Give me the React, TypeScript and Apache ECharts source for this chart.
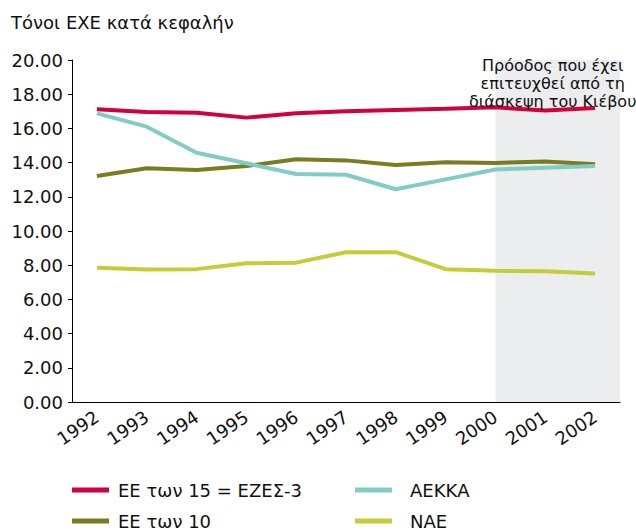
import React, { useEffect, useRef } from "react";
import * as echarts from "echarts";

const years = ["1992", "1993", "1994", "1995", "1996", "1997", "1998", "1999", "2000", "2001", "2002"];
const eu15 = [17.12, 16.96, 16.92, 16.63, 16.88, 17.0, 17.08, 17.15, 17.23, 17.05, 17.19];
const eu10 = [13.22, 13.67, 13.57, 13.8, 14.19, 14.13, 13.86, 14.02, 13.98, 14.06, 13.9];
const aekka = [16.88, 16.1, 14.58, 13.96, 13.33, 13.29, 12.44, 13.02, 13.6, 13.7, 13.8];
const nae = [7.85, 7.75, 7.77, 8.11, 8.15, 8.76, 8.76, 7.77, 7.67, 7.65, 7.51];
const seriesNames = ["ΕΕ των 15 = ΕΖΕΣ-3", "ΕΕ των 10", "ΑΕΚΚΑ", "ΝΑΕ"];
const colors = ["#d2003c", "#7b7b1f", "#82ccc6", "#c4cd38"];
const titleText = "Τόνοι ΕΧΕ κατά κεφαλήν";
const noteText = "Πρόοδος που έχει\nεπιτευχθεί από τη\nδιάσκεψη του Κιέβου";
const shadeFrom = "2000";

const FONT = "'DejaVu Sans', Verdana, sans-serif";

export default function App() {
  const ref = useRef<HTMLDivElement>(null);
  useEffect(() => {
    if (!ref.current) return;
    const chart = echarts.init(ref.current, null, { renderer: "svg" });
    const dataArr = [eu15, eu10, aekka, nae];
    const legendPos = [
      { left: 72, top: 480, pad: 4 },
      { left: 72, top: 511, pad: 4 },
      { left: 355, top: 480, pad: 13 },
      { left: 355, top: 511, pad: 13 },
    ];
    chart.setOption({
      animation: false,
      textStyle: { fontFamily: FONT },
      title: {
        text: titleText,
        left: 6,
        top: 8,
        textStyle: { fontFamily: FONT, fontSize: 18, fontWeight: "normal", color: "#111" },
      },
      grid: { left: 72, right: 16, top: 60, bottom: 129, containLabel: false },
      legend: seriesNames.map((n, i) => ({
        left: legendPos[i].left,
        top: legendPos[i].top,
        itemWidth: 37,
        itemHeight: 5,
        icon: "rect",
        padding: 0,
        data: [n],
        textStyle: {
          fontFamily: FONT,
          fontSize: 18,
          color: "#111",
          lineHeight: 20,
          padding: [0, 0, 0, legendPos[i].pad],
        },
      })),
      xAxis: {
        type: "category",
        data: years,
        boundaryGap: true,
        axisLine: { lineStyle: { color: "#000", width: 1 } },
        axisTick: { alignWithLabel: true, length: 5, lineStyle: { color: "#000" } },
        axisLabel: { rotate: 34, fontSize: 18, color: "#111", fontFamily: FONT, margin: 13 },
      },
      yAxis: {
        type: "value",
        min: 0,
        max: 20,
        interval: 2,
        splitLine: { show: false },
        axisLine: { show: true, lineStyle: { color: "#000", width: 1 } },
        axisTick: { show: true, length: 4, lineStyle: { color: "#000" } },
        axisLabel: {
          fontSize: 18,
          color: "#111",
          fontFamily: FONT,
          margin: 9,
          formatter: (v: number) => v.toFixed(2),
        },
      },
      series: dataArr.map((d, i) => ({
        name: seriesNames[i],
        type: "line",
        data: d,
        symbol: "none",
        z: 3,
        lineStyle: { color: colors[i], width: 4 },
        itemStyle: { color: colors[i] },
      })),
    });

    const x0 = chart.convertToPixel({ xAxisIndex: 0 }, shadeFrom) as number;
    const xl = chart.convertToPixel({ xAxisIndex: 0 }, years[years.length - 1]) as number;
    const xl2 = chart.convertToPixel({ xAxisIndex: 0 }, years[years.length - 2]) as number;
    const xEnd = xl + (xl - xl2) / 2;
    const yTop = chart.convertToPixel({ yAxisIndex: 0 }, 20) as number;
    const yBot = chart.convertToPixel({ yAxisIndex: 0 }, 0) as number;
    chart.setOption({
      graphic: [
        {
          type: "rect",
          z: -10,
          shape: { x: x0, y: yTop, width: xEnd - x0, height: yBot - yTop },
          style: { fill: "#ecedee" },
          silent: true,
        },
        {
          type: "text",
          z: 100,
          x: (x0 + xEnd) / 2 - 5,
          y: yTop - 4,
          style: {
            text: noteText,
            fontFamily: FONT,
            fontSize: 16,
            lineHeight: 18,
            fill: "#111",
            align: "center",
            verticalAlign: "top",
          },
        },
      ],
    });
    return () => chart.dispose();
  }, []);
  return <div ref={ref} style={{ width: 636, height: 531, position: "absolute", left: 0, top: 0 }} />;
}
